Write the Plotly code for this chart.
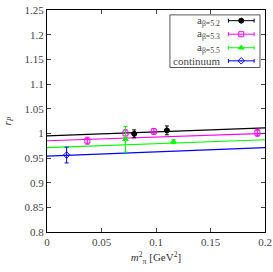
import plotly.graph_objects as go

# data
labels = ["a<sub>β=5.2</sub>", "a<sub>β=5.3</sub>", "a<sub>β=5.5</sub>", "continuum"]
colors = ["black", "#ff00ff", "#00ff00", "#0000ff"]
symbols = ["circle", "square-open", "triangle-up", "diamond-open-dot"]

x52 = [0.080, 0.110]
y52 = [0.999, 1.006]
e52 = [0.008, 0.009]

x53 = [0.037, 0.072, 0.098, 0.193]
y53 = [0.985, 1.000, 1.004, 1.001]
e53 = [0.007, 0.008, 0.006, 0.007]

x55 = [0.072, 0.116]
y55 = [0.988, 0.983]
e55 = [0.026, 0.004]

xc = [0.018]
yc = [0.956]
ec = [0.016]

fit_x = [0.0, 0.2]
fit52 = [0.995, 1.011]
fit53 = [0.985, 1.000]
fit55 = [0.971, 0.987]
fitc = [0.954, 0.971]

xticks = [0, 0.05, 0.1, 0.15, 0.2]
xticktext = ["0", "0.05", "0.1", "0.15", "0.2"]
yticks = [0.8, 0.85, 0.9, 0.95, 1.0, 1.05, 1.1, 1.15, 1.2, 1.25]
yticktext = ["0.8", "0.85", "0.9", "0.95", "1", "1.05", "1.1", "1.15", "1.2", "1.25"]

font = "Liberation Serif"
fig = go.Figure()

series = [(x52, y52, e52), (x53, y53, e53), (x55, y55, e55), (xc, yc, ec)]
fits = [fit52, fit53, fit55, fitc]

for i, f in enumerate(fits):
    fig.add_trace(go.Scatter(x=fit_x, y=f, mode="lines",
                             line=dict(color=colors[i], width=1.2), showlegend=False))

for i, (xs, ys, es) in enumerate(series):
    fig.add_trace(go.Scatter(x=xs, y=ys, mode="markers",
                             marker=dict(symbol=symbols[i], color=colors[i], size=5,
                                         line=dict(color=colors[i], width=1)),
                             error_y=dict(type="data", array=es, color=colors[i],
                                          thickness=1, width=2),
                             showlegend=False))

# custom legend drawn in paper coordinates of the plot area
leg_y = [0.952, 0.891, 0.830, 0.771]
fig.add_shape(type="rect", xref="paper", yref="paper", x0=0.564, x1=0.977, y0=0.741, y1=0.978,
              line=dict(color="#555", width=1), fillcolor="white", layer="below")
for i in range(4):
    fig.add_trace(go.Scatter(x=[0.891], y=[leg_y[i]], xaxis="x2", yaxis="y2", mode="markers",
                             marker=dict(symbol=symbols[i], color=colors[i], size=5,
                                         line=dict(color=colors[i], width=1)),
                             error_x=dict(type="data", array=[0.059], color=colors[i],
                                          thickness=1, width=2),
                             showlegend=False))
    fig.add_annotation(x=0.801, y=leg_y[i], xref="paper", yref="paper", text=labels[i],
                       showarrow=False, xanchor="right", yanchor="middle",
                       font=dict(family=font, size=11, color="#444"))

axis_common = dict(showgrid=False, zeroline=False, ticks="inside", ticklen=4,
                   mirror="allticks", showline=True, linecolor="black", linewidth=1,
                   automargin=False,
                   tickfont=dict(family=font, size=11, color="#444"))

fig.update_layout(
    width=273, height=272,
    margin=dict(l=47, r=8, t=10, b=40),
    paper_bgcolor="white", plot_bgcolor="white",
    xaxis=dict(range=[0, 0.2], tickvals=xticks, ticktext=xticktext,
               title=dict(text="<i>m</i><sup>2</sup><sub>π</sub> [GeV<sup>2</sup>]",
                          font=dict(family=font, size=11, color="#333"), standoff=6),
               **axis_common),
    yaxis=dict(range=[0.8, 1.25], tickvals=yticks, ticktext=yticktext,
               title=dict(text="<i>r<sub>P</sub></i>",
                          font=dict(family=font, size=11, color="#333"), standoff=10),
               **axis_common),
    xaxis2=dict(range=[0, 1], overlaying="x", visible=False, fixedrange=True),
    yaxis2=dict(range=[0, 1], overlaying="y", visible=False, fixedrange=True),
    showlegend=False,
    hovermode=False,
)

fig.write_html("out.html", config={"displayModeBar": False, "staticPlot": True},
               post_script="document.documentElement.style.margin='0';document.body.style.margin='0';document.body.style.padding='0';document.body.style.overflow='hidden';window.scrollTo(0,0);")
